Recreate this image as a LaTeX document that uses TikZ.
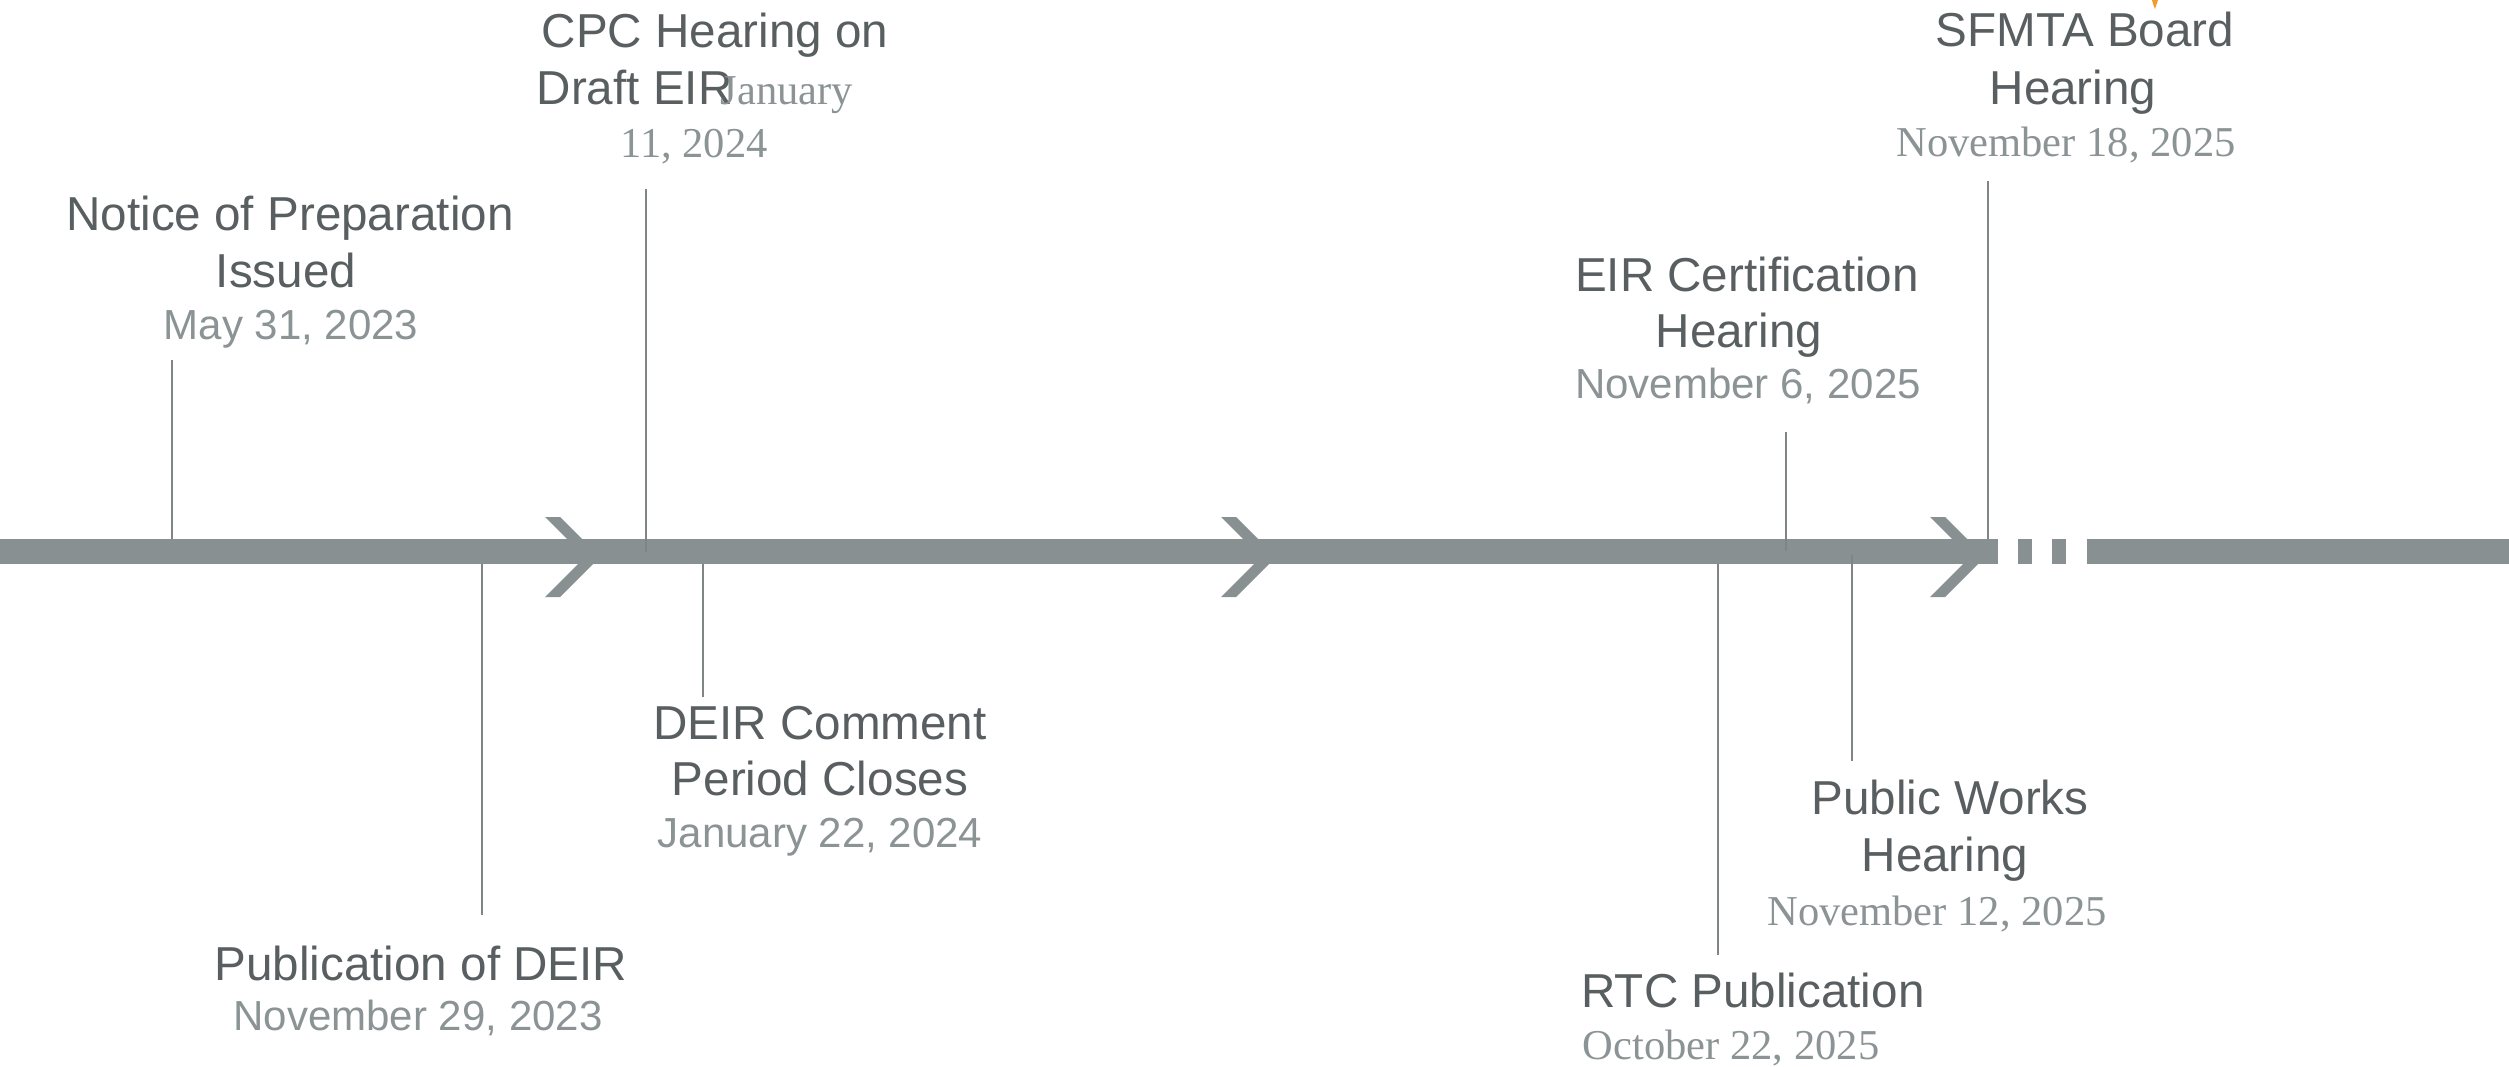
\documentclass[tikz,border=0pt]{standalone}
\usepackage{fontspec}
\newfontfamily\sansfnt{Liberation Sans}
\newfontfamily\seriffnt{Liberation Serif}
\usepackage{tikz}
\definecolor{barcol}{HTML}{899091}
\definecolor{stemcol}{HTML}{7F8586}
\definecolor{titlecol}{HTML}{595F61}
\definecolor{datecol}{HTML}{8B9395}
\definecolor{dropcol}{HTML}{F29B2B}
\tikzset{
    ttl/.style={font=\sansfnt\fontsize{13.54}{16}\selectfont,text=titlecol,inner sep=0pt,anchor=base},
    dsans/.style={font=\sansfnt\fontsize{11.95}{14}\selectfont,text=datecol,inner sep=0pt,anchor=base},
    dserif/.style={font=\seriffnt\fontsize{12.1}{14}\selectfont,text=datecol,inner sep=0pt,anchor=base},
    stemline/.style={draw=stemcol,line width=0.7pt}
}

\begin{document}
\begin{tikzpicture}[x=0.01cm,y=-0.01cm]
\useasboundingbox (0,0) rectangle (2509,1067);
% timeline bar
\fill[barcol] (0,539) rectangle (1998,564);
\foreach \a in {2018,2052}
    \fill[barcol] (\a,539) rectangle (\a+14,564);
\fill[barcol] (2087,539) rectangle (2509,564);
\foreach \c in {545,1221,1930}
    \fill[barcol] (\c,517) -- (\c+15,517) -- (\c+55,557) -- (\c+15,597) -- (\c,597) -- (\c+40,557) -- cycle;
\fill[dropcol] (2152,0) .. controls (2153,4) and (2154,7) .. (2155,9) .. controls (2156,6) and (2157,3) .. (2158,0) -- cycle;

% stems
\coordinate (npT) at (172,360);   \coordinate (npB) at (172,539);
\coordinate (cpcT) at (646,189);  \coordinate (cpcB) at (646,552);
\coordinate (pubT) at (482,564);  \coordinate (pubB) at (482,915);
\coordinate (dcT) at (703,564);   \coordinate (dcB) at (703,697);
\coordinate (rtcT) at (1718,564); \coordinate (rtcB) at (1718,955);
\coordinate (eirT) at (1786,432); \coordinate (eirB) at (1786,551);
\coordinate (pwT) at (1852,555);  \coordinate (pwB) at (1852,761);
\coordinate (sfT) at (1988,181);  \coordinate (sfB) at (1988,539);
\draw[stemline] (npT) -- (npB);
\draw[stemline] (cpcT) -- (cpcB);
\draw[stemline] (pubT) -- (pubB);
\draw[stemline] (dcT) -- (dcB);
\draw[stemline] (rtcT) -- (rtcB);
\draw[stemline] (eirT) -- (eirB);
\draw[stemline] (pwT) -- (pwB);
\draw[stemline] (sfT) -- (sfB);

% labels above
\node[ttl] (np1) at (290,231) {Notice of Preparation};
\node[ttl] (np2) at (286,288) {Issued};
\node[dsans] (npd) at (291,340) {May 31, 2023};
\node[ttl] (cpc1) at (715,48) {CPC Hearing on};
\node[ttl,anchor=base west] (cpc2) at (536,105) {Draft EIR};
\node[dserif,anchor=base west] (cpcd1) at (720,105) {January};
\node[dserif] (cpcd2) at (694,158) {11, 2024};
\node[ttl] (eir1) at (1747,292) {EIR Certification};
\node[ttl] (eir2) at (1739,348) {Hearing};
\node[dsans] (eird) at (1748,399) {November 6, 2025};
\node[ttl] (sf1) at (2085,47) {SFMTA Board};
\node[ttl] (sf2) at (2073,105) {Hearing};
\node[dserif] (sfd) at (2066,157) {November 18, 2025};

% labels below
\node[ttl] (dc1) at (820,739) {DEIR Comment};
\node[ttl] (dc2) at (820,795) {Period Closes};
\node[dsans] (dcd) at (820,847) {January 22, 2024};
\node[ttl] (pub1) at (421,980) {Publication of DEIR};
\node[dsans] (pubd) at (418,1030) {November 29, 2023};
\node[ttl] (pw1) at (1950,814) {Public Works};
\node[ttl] (pw2) at (1945,871) {Hearing};
\node[dserif] (pwd) at (1937,925) {November 12, 2025};
\node[ttl] (rtc1) at (1753,1007) {RTC Publication};
\node[dserif] (rtcd) at (1731,1059) {October 22, 2025};
\end{tikzpicture}
\end{document}
